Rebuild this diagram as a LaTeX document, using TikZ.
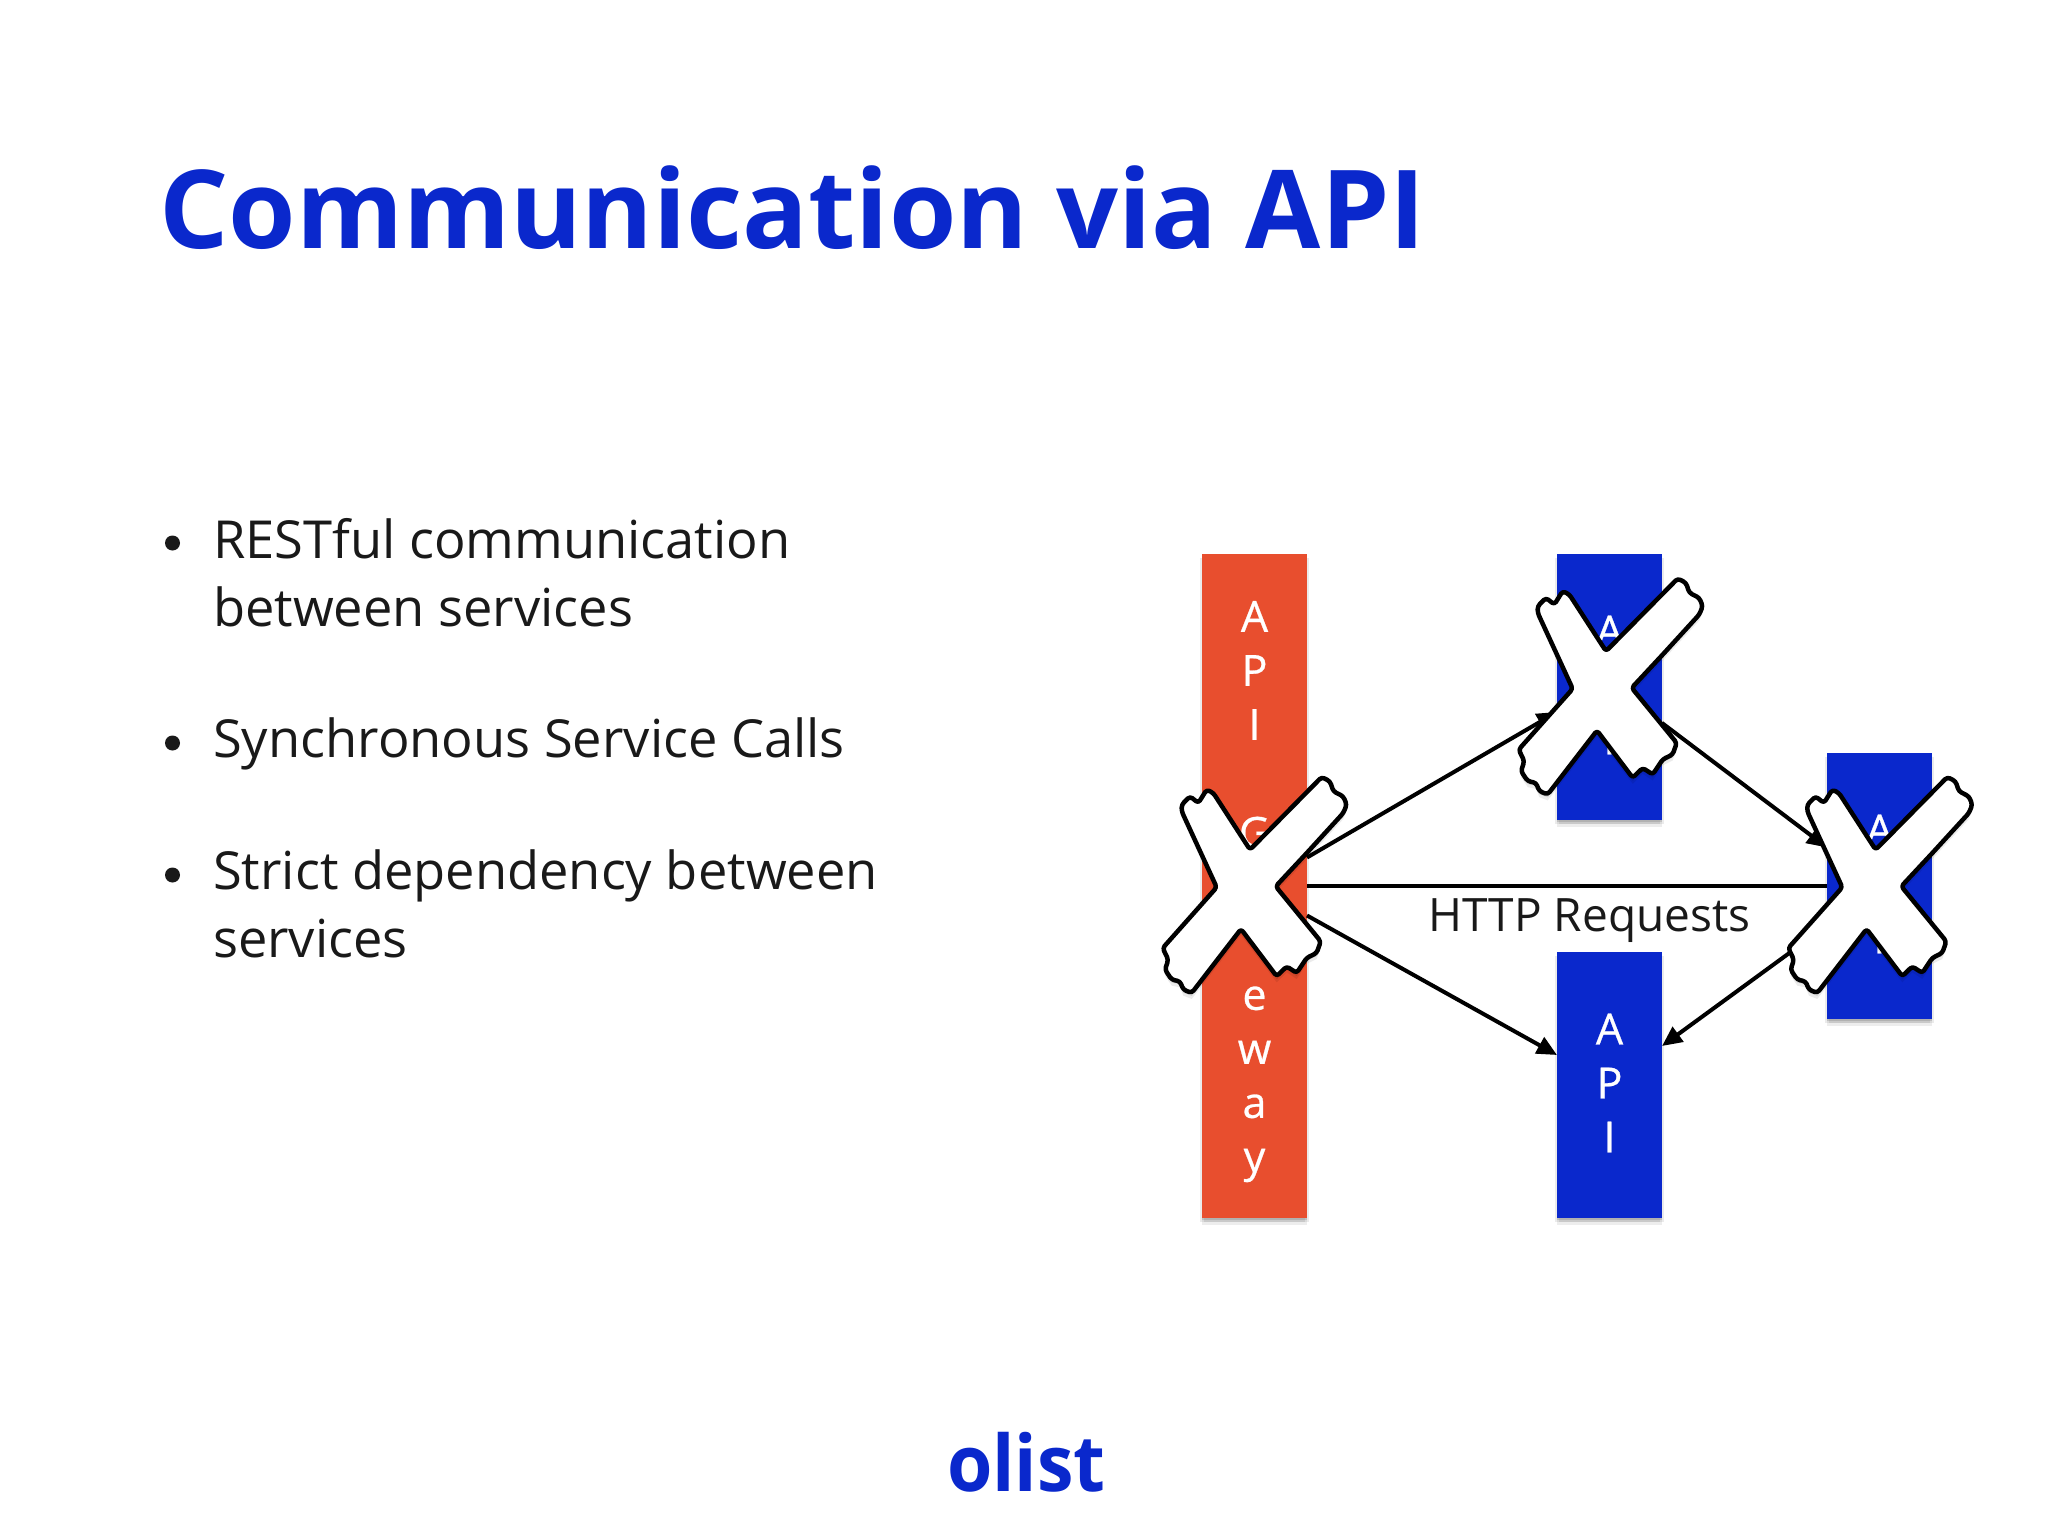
\documentclass[tikz,border=0pt]{standalone}
\usepackage{fontspec}
\setmainfont{Open Sans}[Ligatures=NoCommon]
\newfontfamily\stackfont{Open Sans}[FakeBold=0.6]
\usetikzlibrary{arrows.meta,shadows,calc}
\definecolor{olistblue}{HTML}{0A28CC}
\definecolor{gatewayred}{HTML}{E84E2E}
\newcommand{\crossoutline}{(4,-39.5) -- (75.7,-114.4) -- (84,-110) -- (87.3,-99.7) -- (97.3,-94.5) -- (100.7,-85.9) -- (97.3,-77.3) -- (60.7,-36) -- (29.7,-1.7) -- (74.7,55) -- (70.7,67) -- (60.7,72) -- (50.7,87.6) -- (40.7,80.8) -- (30.7,91) -- (-5,42.3) -- (-54.3,108.2) -- (-62.7,104.8) -- (-66,96.2) -- (-74.3,94.5) -- (-81,84.2) -- (-77.7,73.9) -- (-83.3,61.9) -- (-29.3,-0.7) -- (-64.3,-79) -- (-64.3,-85.9) -- (-56,-94.5) -- (-47.7,-87.6) -- (-39.3,-101.4) -- (-32.7,-98) -- cycle}
\tikzset{
  x=1pt,y=-1pt,
  softshadow/.style={
    general shadow={fill=black,opacity=.07,shadow xshift=0pt,shadow yshift=-7pt},
    general shadow={fill=black,opacity=.08,shadow xshift=2pt,shadow yshift=-4pt},
    general shadow={fill=black,opacity=.08,shadow xshift=-2pt,shadow yshift=-4pt},
    general shadow={fill=black,opacity=.12,shadow xshift=0pt,shadow yshift=-2pt}},
  servicebox/.style={rectangle,minimum width=105pt,inner sep=0pt,outer sep=0pt,text=white,align=center,softshadow,
    font=\stackfont\fontsize{43}{54}\selectfont},
  gatewaybox/.style={servicebox,fill=gatewayred,minimum height=664pt},
  apibox/.style={servicebox,fill=olistblue,minimum height=266pt},
  link/.style={line width=4pt,black},
  linkarrow/.style={link,-{Triangle[length=20pt,width=18pt]}},
  titletext/.style={text=olistblue,anchor=base west,inner sep=0pt,font=\fontsize{109}{110}\selectfont\bfseries},
  bodytext/.style={anchor=base west,inner sep=0pt,text=black!90,font=\fontsize{52.4}{68}\selectfont},
  dotmark/.style={circle,fill=black!90,minimum size=15pt,inner sep=0pt},
  httplabel/.style={anchor=base,inner sep=0pt,text=black!90,font=\fontsize{46}{46}\selectfont},
  logotext/.style={text=olistblue,anchor=base west,inner sep=0pt,xscale=.94,font=\fontsize{78}{84}\selectfont\bfseries},
  crossmark/.pic={
    \fill[black,opacity=.08,yshift=-6pt,yscale=.97] \crossoutline;
    \fill[black,opacity=.10,yshift=-3pt,yscale=.97] \crossoutline;
    \draw[fill=white,line width=4.5pt,line join=round,rounded corners=3pt,yscale=.97] \crossoutline;
  }
}
\begin{document}
\begin{tikzpicture}
\useasboundingbox (0,0) rectangle (2048,1536);
\node[titletext] (title) at (159,248) {Communication via API};
\node[dotmark] (d1) at (172.5,543) {};
\node[dotmark] (d2) at (172.5,743) {};
\node[dotmark] (d3) at (172.5,875) {};
\node[bodytext] (b1) at (213,558) {RESTful communication};
\node[bodytext] (b1b) at (213,626) {between services};
\node[bodytext] (b2) at (213,757) {Synchronous Service Calls};
\node[bodytext] (b3) at (213,889) {Strict dependency between};
\node[bodytext] (b3b) at (213,957) {services};
\node[gatewaybox] (gw) at (1254.5,886) {\rule{0pt}{42pt}A\\P\\I\\[54pt]G\\a\\\raisebox{9pt}{t}\\e\\w\\a\\y};
\node[apibox] (top) at (1609.5,687) {A\\P\\I\rule[-4pt]{0pt}{4pt}};
\node[apibox] (bot) at (1609.5,1085) {A\\P\\I\rule[-4pt]{0pt}{4pt}};
\node[apibox] (right) at (1879.5,886) {A\\P\\I\rule[-4pt]{0pt}{4pt}};
\draw[linkarrow] ([yshift=28.5pt]gw.east) -- ([yshift=-25pt]top.west);
\draw[link] (gw.east) -- (right.west);
\draw[linkarrow] ([yshift=-29.5pt]gw.east) -- ([yshift=30pt]bot.west);
\draw[linkarrow] ([yshift=-36pt]top.east) -- ([yshift=38.5pt]right.west);
\draw[linkarrow] ([yshift=-39.5pt]right.west) -- ([yshift=39pt]bot.east);
\node[httplabel] (http) at (1589.5,931) {HTTP Requests};
\pic at (1246,888) {crossmark};
\pic at (1602,689.5) {crossmark};
\pic at (1871.6,888) {crossmark};
\node[logotext] (logo) at (947,1491) {olist};
\end{tikzpicture}
\end{document}
